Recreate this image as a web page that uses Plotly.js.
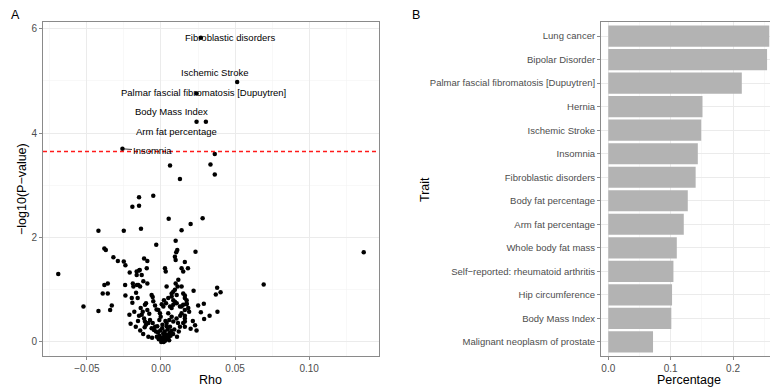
<!DOCTYPE html>
<html>
<head>
<meta charset="utf-8">
<script src="https://cdn.plot.ly/plotly-3.0.1.min.js"></script>
<style>html,body{margin:0;padding:0;background:#fff;}#chart{width:770px;height:390px;}</style>
</head>
<body>
<div id="chart"></div>
<script>
// ---------- Panel A data: rho vs -log10(P) ----------
const rho = [
 0.0269, 0.0514, 0.0240, 0.0240, 0.0303, -0.0260,
 0.0363, 0.0334, 0.0363, 0.0128, 0.0061, -0.0148, -0.0148, -0.0193, -0.0052,
 -0.0422, -0.0251, -0.0135, 0.0052, 0.0139, 0.0200, 0.0281, -0.0032, 0.0099,
 0.0110, 0.0103, 0.0233, 0.1368, -0.0382, -0.0372, -0.0321, -0.0291, -0.0251,
 -0.0240, -0.0693, -0.0211, -0.0148, -0.0164, 0.0094, 0.0099, -0.0114, -0.0092,
 0.0161, -0.0143, -0.0096, 0.0027, 0.0032, 0.0139, 0.0150, 0.0182, -0.0382,
 -0.0359, -0.0393, -0.0359, -0.0242, -0.0190, -0.0162, -0.0168, -0.0240, -0.0157,
 -0.0186, -0.0197, -0.0164, -0.0130, -0.0119, -0.0092, -0.0153, -0.0141, 0.0117,
 0.0099, 0.0112, 0.0094, 0.0038, 0.0072, 0.0049, 0.0083, 0.0139, 0.0150,
 0.0161, 0.0173, 0.0139, 0.0220, 0.0379, 0.0402, 0.0370, 0.0693, 0.0173,
 0.0161, 0.0190, 0.0161, 0.0161, 0.0161, 0.0161, 0.0251, 0.0289, 0.0269,
 0.0328, 0.0291, 0.0381, -0.0523, -0.0422, -0.0343, -0.0332, -0.0193, -0.0180,
 -0.0213, -0.0148, -0.0170, -0.0063, -0.0056, -0.0101, -0.0108, -0.0137, -0.0123,
 -0.0130, -0.0114, -0.0092, -0.0079, -0.0074, -0.0085, -0.0101, -0.0108, -0.0056,
 -0.0040, -0.0047, -0.0034, -0.0063, -0.0018, -0.0007, -0.0002, -0.0011, 0.0020,
 0.0034, 0.0016, 0.0061, 0.0072, 0.0083, 0.0094, 0.0106, 0.0049, 0.0072,
 0.0056, 0.0083, 0.0038, 0.0061, 0.0128, 0.0150, 0.0139, 0.0161, 0.0150,
 0.0128, 0.0173, 0.0184, 0.0106, 0.0083, 0.0072,
 -0.0020, -0.0010, 0.0000, 0.0005, 0.0012, 0.0020, 0.0028, 0.0035, 0.0042,
 0.0050, 0.0015, 0.0025, -0.0005, 0.0008, 0.0045, 0.0058, 0.0065, -0.0028,
 -0.0015, 0.0002, 0.0018, 0.0032, 0.0055, 0.0070, 0.0010, 0.0038, -0.0025,
 0.0082, 0.0090, 0.0030,
 -0.0205, -0.0155, -0.0140, -0.0120, -0.0085, -0.0060, -0.0110, 0.0105, 0.0115,
 0.0120, 0.0108, 0.0215, 0.0230, 0.0240, 0.0200, 0.0130, -0.0040, -0.0030,
 0.0005, -0.0052
];
const negLogP = [
 5.83, 4.98, 4.76, 4.22, 4.22, 3.70,
 3.60, 3.40, 3.21, 3.12, 3.38, 2.77, 2.61, 2.59, 2.80,
 2.13, 2.13, 2.17, 2.36, 2.14, 2.26, 2.37, 1.86, 1.94,
 1.76, 1.72, 1.73, 1.72, 1.79, 1.76, 1.62, 1.55, 1.54,
 1.47, 1.30, 1.33, 1.37, 1.35, 1.63, 1.57, 1.60, 1.55,
 1.53, 1.38, 1.41, 1.41, 1.35, 1.41, 1.35, 1.41, 1.09,
 1.12, 0.93, 0.93, 1.09, 1.12, 1.09, 0.94, 0.89, 0.84,
 1.06, 0.84, 1.28, 1.28, 1.16, 1.12, 1.09, 1.06, 1.19,
 1.12, 1.06, 1.00, 1.06, 0.93, 0.84, 0.80, 1.06, 0.93,
 0.84, 0.74, 0.68, 0.98, 1.04, 0.95, 0.91, 1.10, 0.72,
 0.61, 0.58, 0.50, 0.39, 0.29, 0.89, 0.70, 0.73, 0.57,
 0.50, 0.44, 0.58, 0.68, 0.59, 0.61, 0.70, 0.75, 0.58,
 0.52, 0.50, 0.29, 0.90, 0.86, 0.74, 0.71, 0.65, 0.58,
 0.52, 0.45, 0.61, 0.54, 0.42, 0.36, 0.33, 0.39, 0.36,
 0.29, 0.23, 0.20, 0.26, 0.61, 0.55, 0.48, 0.42, 0.80,
 0.74, 0.68, 0.68, 0.65, 0.71, 0.77, 0.74, 0.55, 0.48,
 0.42, 0.39, 0.36, 0.29, 0.68, 0.71, 0.55, 0.45, 0.36,
 0.29, 0.80, 0.65, 0.90, 0.96, 0.87,
 0.18, 0.12, 0.08, 0.03, 0.05, 0.10, 0.02, 0.06, 0.13,
 0.09, 0.16, 0.20, 0.22, 0.26, 0.24, 0.17, 0.12, 0.10,
 0.05, 0.00, 0.00, 0.14, 0.03, 0.21, 0.33, 0.30, 0.30,
 0.15, 0.24, 0.40,
 0.35, 0.40, 0.22, 0.15, 0.10, 0.08, 0.28, 0.45, 0.36,
 0.20, 0.10, 0.40, 0.32, 0.22, 0.25, 0.50, 0.70, 0.62,
 0.72, 0.78
];
const threshold = 3.65;

// labelled traits in panel A (index into the arrays above)
const labelTraits = ["Fibroblastic disorders", "Ischemic Stroke", "Palmar fascial fibromatosis [Dupuytren]", "Arm fat percentage", "Body Mass Index", "Insomnia"];
const labelIdx = [0, 1, 2, 3, 4, 5];

// ---------- Panel B data ----------
const traits = ["Lung cancer", "Bipolar Disorder", "Palmar fascial fibromatosis [Dupuytren]", "Hernia",
  "Ischemic Stroke", "Insomnia", "Fibroblastic disorders", "Body fat percentage", "Arm fat percentage",
  "Whole body fat mass", "Self\u2212reported: rheumatoid arthritis", "Hip circumference", "Body Mass Index",
  "Malignant neoplasm of prostate"];
const percentage = [0.258, 0.2545, 0.214, 0.151, 0.149, 0.1435, 0.140, 0.1274, 0.121, 0.1098, 0.1044, 0.1022, 0.101, 0.0717];

// ---------- layout helpers ----------
const W = 770, H = 390;
const px = v => v / W, py = v => 1 - v / H;
const FONT = '"Liberation Sans", Arial, Helvetica, sans-serif';
const tickFont = {family: FONT, size: 10, color: '#4d4d4d'};
const border = '#8a8a8a';

// text offsets (ggrepel placement) for labels, in data units relative to the point
const labelOffsets = [[0.0202, 0.0], [-0.0151, 0.18], [0.0046, 0.01], [-0.0132, -0.19], [-0.0229, 0.20], [0.0206, -0.04]];

const annotations = [];
labelIdx.forEach((k, i) => {
  const x = rho[k], y = negLogP[k];
  const tx = x + labelOffsets[i][0], ty = y + labelOffsets[i][1];
  if (labelTraits[i] === "Insomnia") {
    annotations.push({xref: 'x', yref: 'y', axref: 'x', ayref: 'y', x: x, y: y, ax: tx, ay: ty,
      text: labelTraits[i], showarrow: true, arrowhead: 0, arrowwidth: 0.8, arrowcolor: '#000',
      standoff: 1, font: {family: FONT, size: 9.5, color: '#000'}});
  } else {
    annotations.push({xref: 'x', yref: 'y', x: tx, y: ty, text: labelTraits[i], showarrow: false,
      font: {family: FONT, size: 9.5, color: '#000'}});
  }
});
const txt = (t, x, y, size, angle) => ({xref: 'paper', yref: 'paper', x: px(x), y: py(y), text: t,
  showarrow: false, textangle: angle || 0, xanchor: 'center', yanchor: 'middle',
  font: {family: FONT, size: size, color: '#000'}});
annotations.push(txt('Rho', 211, 379.5, 12.5));
annotations.push(txt('\u2212log10(P\u2212value)', 22, 189, 12.5, -90));
annotations.push(txt('Percentage', 689, 379.5, 12.5));
annotations.push(txt('Trait', 425, 190, 12.5, -90));
annotations.push(txt('A', 15, 15, 12.5));
annotations.push(txt('B', 416, 15, 12.5));

const traces = [
  {type: 'scatter', mode: 'markers', x: rho, y: negLogP, xaxis: 'x', yaxis: 'y',
   marker: {color: '#000', size: 4.5}, hoverinfo: 'x+y', cliponaxis: true},
  {type: 'bar', orientation: 'h', x: percentage, y: traits, xaxis: 'x2', yaxis: 'y2',
   marker: {color: '#b3b3b3', line: {width: 0}}, width: 0.9}
];

const commonAxis = {
  showline: true, mirror: true, linecolor: border, linewidth: 1,
  ticks: 'outside', ticklen: 3, tickcolor: border, tickwidth: 1,
  tickfont: tickFont, zeroline: false, showgrid: true, gridcolor: '#ebebeb', gridwidth: 1
};

const xRange = [-0.0796, 0.1471];
const layout = {
  width: W, height: H, margin: {l: 0, r: 0, t: 0, b: 0},
  paper_bgcolor: '#fff', plot_bgcolor: '#fff', showlegend: false,
  font: {family: FONT},
  xaxis: Object.assign({}, commonAxis, {domain: [px(43), px(379)], range: xRange, anchor: 'y',
    tickvals: [-0.05, 0, 0.05, 0.1], ticktext: ['\u22120.05', '0.00', '0.05', '0.10'],
    minor: {tickvals: [-0.075, -0.025, 0.025, 0.075, 0.125], showgrid: true, gridcolor: '#f4f4f4', gridwidth: 0.6, ticks: ''}}),
  yaxis: Object.assign({}, commonAxis, {domain: [1 - 356 / H, 1 - 22 / H], range: [-0.27, 6.13], anchor: 'x',
    tickvals: [0, 2, 4, 6], ticktext: ['0', '2', '4', '6'],
    minor: {tickvals: [1, 3, 5], showgrid: true, gridcolor: '#f4f4f4', gridwidth: 0.6, ticks: ''}}),
  xaxis2: Object.assign({}, commonAxis, {domain: [px(601), 1], range: [-0.0117, 0.2592], anchor: 'y2',
    tickvals: [0, 0.1, 0.2], ticktext: ['0.0', '0.1', '0.2'],
    minor: {tickvals: [0.05, 0.15, 0.25], showgrid: true, gridcolor: '#f4f4f4', gridwidth: 0.6, ticks: ''}}),
  yaxis2: Object.assign({}, commonAxis, {domain: [1 - 356 / H, 1 - 22 / H], anchor: 'x2', type: 'category',
    categoryorder: 'array', categoryarray: traits.slice().reverse(), range: [-0.6, 13.6],
    tickfont: {family: FONT, size: 9.5, color: '#4d4d4d'}}),
  shapes: [{type: 'line', layer: 'above', xref: 'x', yref: 'y', x0: xRange[0], x1: xRange[1], y0: threshold, y1: threshold,
    line: {color: '#ff1a1a', width: 1.4, dash: '4px,3px'}}],
  annotations: annotations
};

Plotly.newPlot('chart', traces, layout, {staticPlot: true, displayModeBar: false});
</script>
</body>
</html>
